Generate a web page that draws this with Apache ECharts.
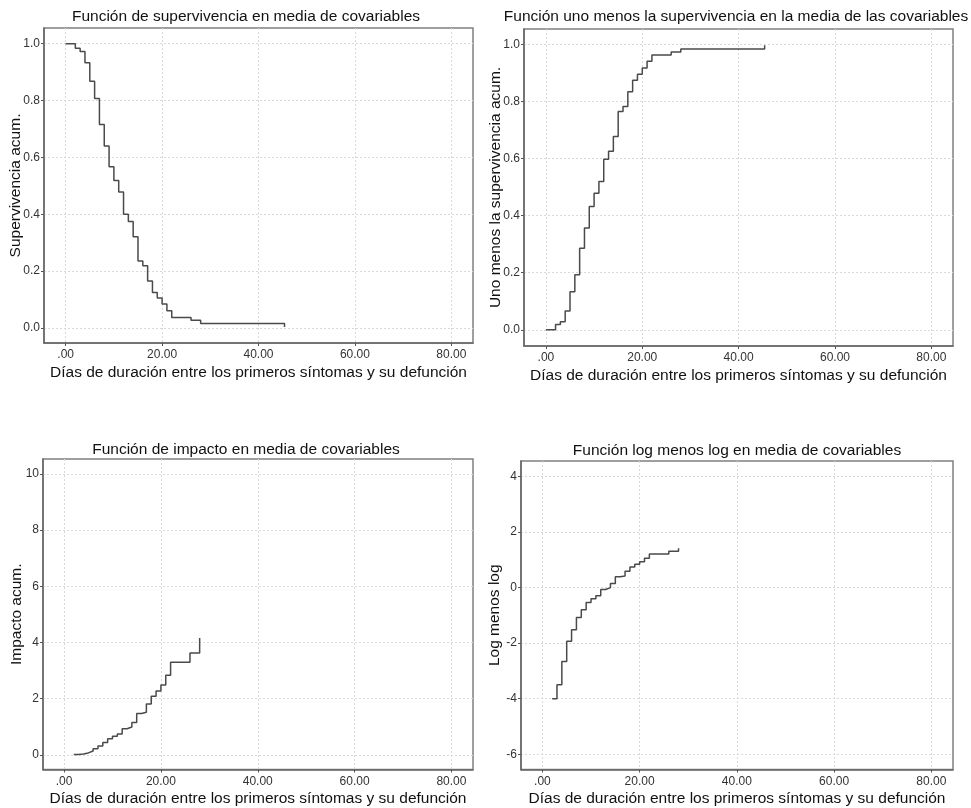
<!DOCTYPE html>
<html>
<head>
<meta charset="utf-8">
<script src="https://cdn.jsdelivr.net/npm/echarts@6/dist/echarts.min.js"></script>
<style>
html,body{margin:0;padding:0;background:#fff;}
#c{width:971px;height:808px;}
</style>
</head>
<body>
<div id="c"></div>
<script>
// ---- data ----
const titles = [
  'Función de supervivencia en media de covariables',
  'Función uno menos la supervivencia en la media de las covariables',
  'Función de impacto en media de covariables',
  'Función log menos log en media de covariables'
];
const xName = 'Días de duración entre los primeros síntomas y su defunción';
const yNames = ['Supervivencia acum.', 'Uno menos la supervivencia acum.', 'Impacto acum.', 'Log menos log'];

const xTicks = [0, 20, 40, 60, 80];
const xTickLabels = ['.00', '20.00', '40.00', '60.00', '80.00'];
const yTicks01 = [0, 0.2, 0.4, 0.6, 0.8, 1.0];
const yTickLabels01 = ['0.0', '0.2', '0.4', '0.6', '0.8', '1.0'];
const yTicksHaz = [0, 2, 4, 6, 8, 10];
const yTicksLml = [-6, -4, -2, 0, 2, 4];

const timesSurv = [0, 2, 3, 4, 5, 6, 7, 8, 9, 10, 11, 12, 13, 14, 15, 16, 17, 18, 19, 20, 21, 22, 26, 28, 45.4];
const survival = [1.0, 0.984, 0.972, 0.933, 0.868, 0.807, 0.716, 0.640, 0.567, 0.519, 0.478, 0.400, 0.374, 0.321, 0.235, 0.219, 0.165, 0.125, 0.105, 0.084, 0.060, 0.037, 0.027, 0.016, 0.003];
const oneMinus = [0, 0.018, 0.028, 0.066, 0.133, 0.193, 0.286, 0.357, 0.432, 0.479, 0.520, 0.598, 0.626, 0.678, 0.766, 0.783, 0.835, 0.875, 0.896, 0.918, 0.942, 0.964, 0.974, 0.985, 0.998];

const timesHaz = [2, 3, 4, 5, 6, 7, 8, 9, 10, 11, 12, 13, 14, 15, 16, 17, 18, 19, 20, 21, 22, 26, 28];
const hazard = [0.015, 0.03, 0.07, 0.14, 0.22, 0.32, 0.44, 0.57, 0.66, 0.74, 0.93, 0.99, 1.15, 1.47, 1.52, 1.81, 2.09, 2.27, 2.49, 2.83, 3.30, 3.63, 4.16];
const logMinusLog = [-4.0, -3.5, -2.66, -1.93, -1.52, -1.08, -0.80, -0.54, -0.40, -0.29, -0.07, 0.0, 0.15, 0.39, 0.42, 0.59, 0.74, 0.84, 0.93, 1.06, 1.21, 1.31, 1.42];

// ---- layout ----
const grids = [
  {left: 44, top: 28, width: 429, height: 315},
  {left: 524, top: 29, width: 429, height: 317},
  {left: 43, top: 459, width: 430, height: 313},
  {left: 521, top: 461, width: 432, height: 316}
];
const xRanges = [[-4.5, 84.5], [-4.55, 84.5], [-4.35, 84.45], [-4.4, 84.45]];
const yRanges = [[-0.053, 1.055], [-0.057, 1.055], [-0.52, 10.53], [-6.55, 4.56]];
const yTickSets = [yTicks01, yTicks01, yTicksHaz, yTicksLml];
const yNameGaps = [20.5, 20.5, 18.5, 18];
const titlePos = [[246, 9], [736, 9], [246, 442], [737, 443]];

const FONT = '"Liberation Sans", Arial, sans-serif';
const gridLine = {show: true, lineStyle: {color: '#d9d9d9', width: 1, type: [2, 2]}};

function zip(a, b) { return a.map((v, i) => [v, b[i]]); }
const seriesData = [zip(timesSurv, survival), zip(timesSurv, oneMinus), zip(timesHaz, hazard), zip(timesHaz, logMinusLog)];

const option = {
  animation: false,
  backgroundColor: '#ffffff',
  title: titles.map((t, i) => ({
    text: t, left: titlePos[i][0], top: titlePos[i][1], textAlign: 'center', padding: 0,
    textStyle: {fontFamily: FONT, fontSize: 15.5, fontWeight: 'normal', color: '#111'}
  })),
  grid: grids.map(g => Object.assign({show: true, borderColor: '#808080', borderWidth: 1.5, containLabel: false}, g)),
  xAxis: grids.map((g, i) => ({
    type: 'value', gridIndex: i, min: xRanges[i][0], max: xRanges[i][1],
    name: xName, nameLocation: 'middle', nameGap: 21.5, nameMoveOverlap: false,
    nameTextStyle: {fontFamily: FONT, fontSize: 15.5, color: '#111'},
    axisLine: {show: true, onZero: false, lineStyle: {color: '#666', width: 1.5}},
    axisTick: {show: true, length: 3, customValues: xTicks, lineStyle: {color: '#555'}},
    axisLabel: {customValues: xTicks, margin: 6, fontFamily: FONT, fontSize: 12, color: '#333',
      formatter: (v) => xTickLabels[xTicks.indexOf(v)] ?? ''},
    splitLine: gridLine
  })),
  yAxis: grids.map((g, i) => ({
    type: 'value', gridIndex: i, min: yRanges[i][0], max: yRanges[i][1],
    name: yNames[i], nameLocation: 'middle', nameGap: yNameGaps[i], nameMoveOverlap: false,
    nameTextStyle: {fontFamily: FONT, fontSize: 15.5, color: '#111'},
    axisLine: {show: true, onZero: false, lineStyle: {color: '#666', width: 1.5}},
    axisTick: {show: true, length: 3, customValues: yTickSets[i], lineStyle: {color: '#555'}},
    axisLabel: {customValues: yTickSets[i], margin: 4, fontFamily: FONT, fontSize: 12, color: '#333',
      formatter: (v) => {
        if (i < 2) { const k = yTicks01.findIndex(t => Math.abs(t - v) < 1e-9); return k >= 0 ? yTickLabels01[k] : ''; }
        return String(Math.round(v));
      }},
    splitLine: gridLine
  })),
  series: seriesData.map((d, i) => ({
    type: 'line', xAxisIndex: i, yAxisIndex: i, step: 'end', data: d,
    symbol: 'none', lineStyle: {color: '#4a4a4a', width: 1.5}, z: 5
  }))
};

const chart = echarts.init(document.getElementById('c'), null, {renderer: 'canvas'});
chart.setOption(option);
</script>
</body>
</html>
